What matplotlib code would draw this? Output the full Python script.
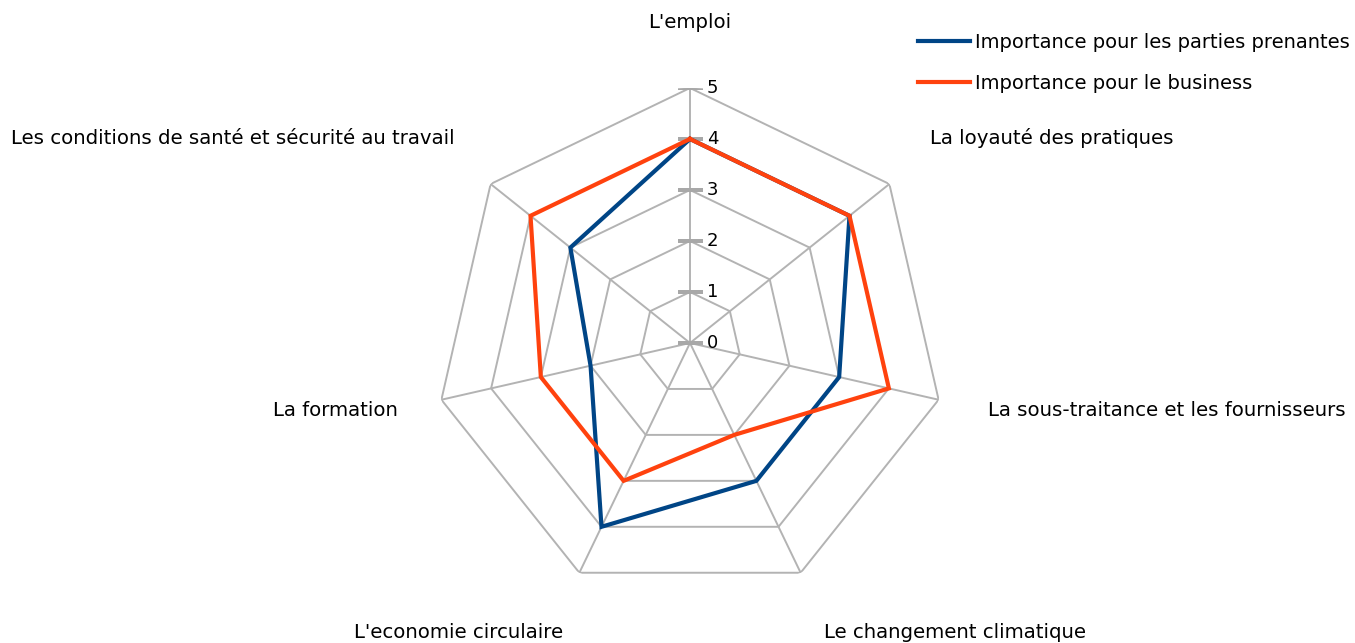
import numpy as np
import matplotlib
matplotlib.use("Agg")
import matplotlib.pyplot as plt
import matplotlib.transforms as mtransforms

categories = [
    "L'emploi",
    "La loyauté des pratiques",
    "La sous-traitance et les fournisseurs",
    "Le changement climatique",
    "L'economie circulaire",
    "La formation",
    "Les conditions de santé et sécurité au travail",
]
stakeholders = [4, 4, 3, 3, 4, 2, 3]
business = [4, 4, 4, 2, 3, 3, 4]
series_names = ["Importance pour les parties prenantes", "Importance pour le business"]
levels = [0, 1, 2, 3, 4, 5]

plt.rcParams['font.family'] = ['DejaVu Sans']
W, H = 1355, 643
fig = plt.figure(figsize=(W / 100, H / 100), dpi=100)

cx, cy, R = 690, 343, 255
ax = fig.add_axes([(cx - R) / W, (H - cy - R) / H, 2 * R / W, 2 * R / H], projection='polar')
ax.set_theta_zero_location('N')
ax.set_theta_direction(-1)
ax.set_ylim(0, 5)
ax.grid(False)
ax.set_xticks([])
ax.set_yticks([])
ax.spines['polar'].set_visible(False)
ax.patch.set_visible(False)

n = len(categories)
theta = np.arange(n) * 2 * np.pi / n
theta_closed = np.append(theta, theta[0])
grey = '#b3b3b3'

for lv in levels[1:]:
    ax.plot(theta_closed, [lv] * (n + 1), color=grey, lw=1.4, zorder=1)
for t in theta:
    ax.plot([t, t], [0, levels[-1]], color=grey, lw=1.4, zorder=1)
# ticks on vertical axis
ax.plot([0] * len(levels), levels, ls='none', marker='_', markersize=18,
        markeredgewidth=1.6, color='#a8a8a8', zorder=1)

offset = mtransforms.offset_copy(ax.transData, fig=fig, x=17, y=0, units='dots')
for lv in levels:
    ax.text(0, lv, str(lv), transform=offset, ha='left', va='center', fontsize=13, color='black')

l1, = ax.plot(theta_closed, stakeholders + stakeholders[:1], color='#004586', lw=3, zorder=3,
              solid_joinstyle='miter')
l2, = ax.plot(theta_closed, business + business[:1], color='#ff420e', lw=3, zorder=4,
              solid_joinstyle='miter')

label_pos = [
    (690, 22, 'center'),
    (930, 138, 'left'),
    (988, 411, 'left'),
    (955, 633, 'center'),
    (459, 633, 'center'),
    (398, 411, 'right'),
    (455, 138, 'right'),
]
for name, (x, y, ha) in zip(categories, label_pos):
    fig.text(x / W, 1 - y / H, name, ha=ha, va='center', fontsize=14.2, color='black')

leg = fig.legend([l1, l2], series_names, loc='upper left',
                 bbox_to_anchor=(918 / W, 1 - 33 / H), frameon=False,
                 fontsize=14, handlelength=2.65, handletextpad=0.26,
                 labelspacing=1.12, borderaxespad=0, borderpad=0)

fig.savefig('out.png', dpi=100)
